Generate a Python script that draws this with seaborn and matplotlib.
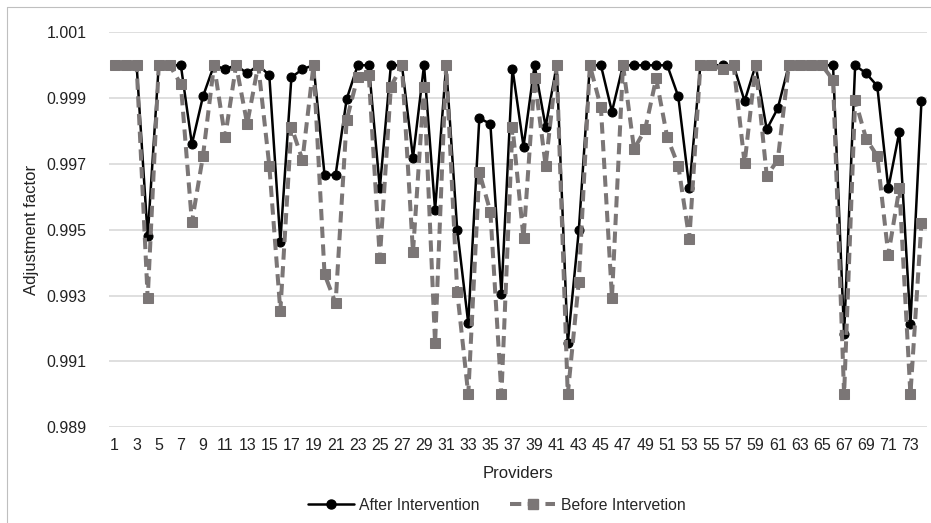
import numpy as np
import pandas as pd
import matplotlib
matplotlib.use("Agg")
import matplotlib.pyplot as plt
import seaborn as sns
from matplotlib.lines import Line2D

providers = list(range(1, 75))

after = [
    1.0000, 1.0000, 1.0000, 0.9948, 1.0000, 1.0000, 1.0000, 0.9976, 0.99905, 1.0000,
    0.99988, 1.0000, 0.99975, 1.0000, 0.9997, 0.99464, 0.99963, 0.99988, 1.0000, 0.99667,
    0.99667, 0.99897, 1.0000, 1.0000, 0.99626, 1.0000, 1.0000, 0.99719, 1.0000, 0.9956,
    1.0000, 0.9950, 0.99216, 0.99839, 0.99822, 0.99305, 0.9999, 0.99753, 1.0000, 0.99813,
    1.0000, 0.99155, 0.99498, 1.0000, 1.0000, 0.99859, 1.0000, 1.0000, 1.0000, 1.0000,
    1.0000, 0.99905, 0.99626, 1.0000, 1.0000, 1.0000, 1.0000, 0.99891, 1.0000, 0.99805,
    0.99869, 1.0000, 1.0000, 1.0000, 1.0000, 1.0000, 0.99183, 1.0000, 0.99975, 0.99937,
    0.99626, 0.99798, 0.99214, 0.99892,
]

before = [
    1.0000, 1.0000, 1.0000, 0.99292, 1.0000, 1.0000, 0.99942, 0.99523, 0.99724, 1.0000,
    0.99781, 1.0000, 0.99822, 1.0000, 0.99695, 0.99253, 0.99813, 0.99712, 1.0000, 0.99365,
    0.99277, 0.99834, 0.99965, 0.9997, 0.99413, 0.99935, 1.0000, 0.99432, 0.99935, 0.99155,
    1.0000, 0.99312, 0.9900, 0.99675, 0.99555, 0.9900, 0.99813, 0.99474, 0.9996, 0.99695,
    1.0000, 0.9900, 0.99342, 1.0000, 0.99872, 0.99294, 1.0000, 0.99745, 0.99805, 0.9996,
    0.99781, 0.99695, 0.99472, 1.0000, 1.0000, 0.99988, 1.0000, 0.99702, 1.0000, 0.99664,
    0.99712, 1.0000, 1.0000, 1.0000, 1.0000, 0.99955, 0.9900, 0.99894, 0.99776, 0.99724,
    0.99424, 0.99626, 0.9900, 0.99522,
]

yticks = [0.989, 0.991, 0.993, 0.995, 0.997, 0.999, 1.001]
xticks = list(range(1, 75, 2))

sns.set_theme(style="white")
plt.rcParams['font.family'] = ['Liberation Sans', 'DejaVu Sans']

fig = plt.figure(figsize=(9.31, 5.23), dpi=100)
ax = fig.add_axes([109 / 931, 1 - 427.3 / 523, (927 - 109) / 931, (427.3 - 32.3) / 523])

df_a = pd.DataFrame({"Providers": providers, "val": after})
df_b = pd.DataFrame({"Providers": providers, "val": before})

gray = "#7b7676"
txt = "#222222"
sns.lineplot(data=df_a, x="Providers", y="val", ax=ax, color="black", linewidth=1.8,
             marker="o", markersize=6.5, markeredgecolor="black", zorder=3)
sns.lineplot(data=df_b, x="Providers", y="val", ax=ax, color=gray, linewidth=2.9,
             marker="s", markersize=6.5, markeredgecolor=gray, zorder=4,
             dashes=False)
ax.lines[-1].set_dashes((2.8, 1.6))

ax.set_xlim(0.5, 74.5)
ax.set_ylim(0.989, 1.001)
ax.set_yticks(yticks)
ax.set_yticklabels([f"{v:.3f}" for v in yticks])
ax.set_xticks(xticks)
ax.set_xticklabels([str(v) for v in xticks])
ax.tick_params(axis='both', length=0, labelsize=11.5, colors=txt)
ax.tick_params(axis='y', pad=16)
ax.tick_params(axis='x', pad=8)
ax.grid(axis='y', color="#d9d9d9", linewidth=1.2)
ax.grid(axis='x', visible=False)
for s in ax.spines.values():
    s.set_visible(False)
ax.set_axisbelow(True)

ax.set_xlabel("Providers", fontsize=12, color=txt, labelpad=9)
ax.set_ylabel("Adjustment factor", fontsize=12, color=txt)
ax.yaxis.set_label_coords((39 - 109) / 818, 0.5)

handles = [
    Line2D([0], [0], color="black", linewidth=1.8, marker="o", markersize=6.5),
    Line2D([0], [0], color=gray, linewidth=2.9, marker="s", markersize=6.5, dashes=(2.8, 1.6)),
]
fig.legend(handles, ["After Intervention", "Before Intervetion"], loc="center",
           bbox_to_anchor=(497 / 931, 1 - 505 / 523), ncol=2, frameon=False, fontsize=11.3,
           handlelength=2.9, columnspacing=1.9, handletextpad=0.35)
if ax.get_legend() is not None:
    ax.get_legend().remove()

# light figure border
fig.add_artist(plt.Line2D([7 / 931, 7 / 931], [0, 1 - 7 / 523], transform=fig.transFigure,
                          color="#bfbfbf", linewidth=0.8))
fig.add_artist(plt.Line2D([7 / 931, 1], [1 - 7 / 523, 1 - 7 / 523], transform=fig.transFigure,
                          color="#bfbfbf", linewidth=0.8))

fig.savefig("out.png", dpi=100)
